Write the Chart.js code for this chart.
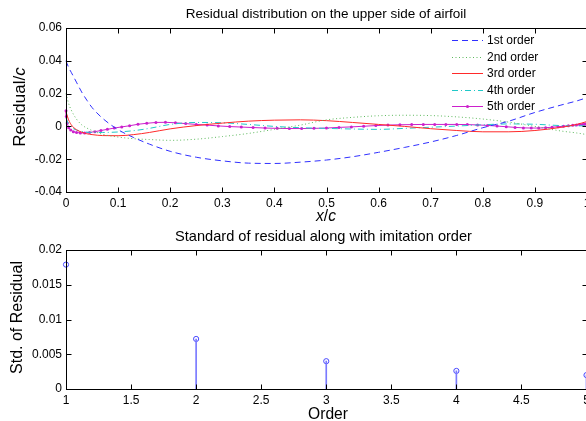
<!DOCTYPE html>
<html><head><meta charset="utf-8">
<script src="https://cdn.jsdelivr.net/npm/chart.js@4/dist/chart.umd.min.js"></script>
<style>
html,body{margin:0;padding:0;background:#fff;overflow:hidden;width:586px;height:421px;}
canvas{position:absolute;left:0;}
#c1{top:0;}
#c2{top:220px;}
</style></head><body>
<canvas id="c1" width="592" height="232" style="width:592px;height:232px"></canvas>
<canvas id="c2" width="592" height="201" style="width:592px;height:201px"></canvas>
<script>
// ---------- DATA (top plot) ----------
const xCoarse = [0, 0.005, 0.01, 0.02, 0.03, 0.04, 0.05, 0.07, 0.1, 0.13, 0.16, 0.2, 0.25, 0.3, 0.35, 0.4, 0.45, 0.5, 0.55, 0.6, 0.65, 0.7, 0.75, 0.8, 0.85, 0.9, 0.95, 0.98, 1.0];
const order1 = [0.04, 0.036, 0.033, 0.027, 0.021, 0.016, 0.0115, 0.005, -0.002, -0.0068, -0.0108, -0.0152, -0.0188, -0.021, -0.0224, -0.0226, -0.0218, -0.0205, -0.0185, -0.0158, -0.0128, -0.0095, -0.0055, -0.0008, 0.0032, 0.0085, 0.013, 0.0155, 0.0175];
const order2 = [0.02, 0.014, 0.01, 0.0045, 0.001, -0.001, -0.0025, -0.0048, -0.0065, -0.0075, -0.008, -0.0085, -0.0078, -0.0062, -0.0043, -0.0018, 0.0008, 0.004, 0.0055, 0.0065, 0.0068, 0.0066, 0.0058, 0.0045, 0.0026, 0.0, -0.0028, -0.004, -0.005];
const order3 = [0.009, 0.004, 0.001, -0.002, -0.0035, -0.0045, -0.005, -0.0056, -0.0057, -0.005, -0.0037, -0.0015, 0.0005, 0.002, 0.0032, 0.0038, 0.004, 0.0035, 0.0024, 0.0012, 0.0, -0.0014, -0.0025, -0.0033, -0.0033, -0.0025, -0.0006, 0.0012, 0.003];
const order4 = [0.005, 0.0015, -0.0005, -0.0022, -0.003, -0.0035, -0.0037, -0.0037, -0.0034, -0.0026, -0.0012, 0.0012, 0.0024, 0.0022, 0.0012, 0.0, -0.0008, -0.0012, -0.0016, -0.0018, -0.0012, -0.0005, 0.0002, 0.001, 0.0015, 0.0013, 0.0005, 0.0003, 0.0004];
const xFine = [0, 0.0006, 0.0023, 0.0051, 0.0090, 0.0141, 0.0203, 0.0275, 0.0358, 0.0452, 0.0556, 0.0670, 0.0794, 0.0927, 0.1070, 0.1221, 0.1381, 0.1550, 0.1726, 0.1909, 0.2100, 0.2297, 0.25, 0.2709, 0.2923, 0.3142, 0.3365, 0.3591, 0.3821, 0.4053, 0.4287, 0.4523, 0.4760, 0.5, 0.5240, 0.5477, 0.5713, 0.5947, 0.6179, 0.6409, 0.6635, 0.6858, 0.7077, 0.7291, 0.75, 0.7703, 0.7900, 0.8091, 0.8274, 0.8450, 0.8619, 0.8779, 0.8930, 0.9073, 0.9206, 0.9330, 0.9444, 0.9548, 0.9642, 0.9725, 0.9797, 0.9859, 0.9910, 0.9949, 0.9977, 0.9994, 1.0];
const order5 = [0.0095, 0.006, 0.002, -0.0008, -0.0022, -0.0032, -0.0037, -0.004, -0.004, -0.0037, -0.0032, -0.0025, -0.0018, -0.001, -0.0003, 0.0004, 0.0013, 0.0019, 0.0024, 0.0025, 0.0022, 0.0017, 0.0012, 0.0008, 0.0003, -0.0001, -0.0004, -0.0007, -0.001, -0.0012, -0.0013, -0.0013, -0.0012, -0.001, -0.0006, -0.0003, 0.0001, 0.0005, 0.0008, 0.001, 0.0011, 0.0012, 0.0012, 0.0012, 0.0012, 0.0011, 0.0009, 0.0006, 0.0002, -0.0002, -0.0006, -0.0009, -0.001, -0.001, -0.0008, -0.0005, -0.0002, 0.0001, 0.0004, 0.0007, 0.0009, 0.0011, 0.0012, 0.0013, 0.0014, 0.0015, 0.0016];
const seriesLabels = ['1st order', '2nd order', '3rd order', '4th order', '5th order'];
const topXTicks = [0, 0.1, 0.2, 0.3, 0.4, 0.5, 0.6, 0.7, 0.8, 0.9, 1];
const topXTickLabels = ['0', '0.1', '0.2', '0.3', '0.4', '0.5', '0.6', '0.7', '0.8', '0.9', '1'];
const topYTicks = [-0.04, -0.02, 0, 0.02, 0.04, 0.06];
const topYTickLabels = ['-0.04', '-0.02', '0', '0.02', '0.04', '0.06'];

// ---------- DATA (bottom plot) ----------
const orders = [1, 2, 3, 4, 5];
const stdResidual = [0.0179, 0.0072, 0.0040, 0.0026, 0.0020];
const botXTicks = [1, 1.5, 2, 2.5, 3, 3.5, 4, 4.5, 5];
const botXTickLabels = ['1', '1.5', '2', '2.5', '3', '3.5', '4', '4.5', '5'];
const botYTicks = [0, 0.005, 0.01, 0.015, 0.02];
const botYTickLabels = ['0', '0.005', '0.01', '0.015', '0.02'];

const FONT = '"Liberation Sans", Arial, Helvetica, sans-serif';
const zip = (xs, ys) => xs.map((x, i) => ({x: x, y: ys[i]}));

function fixTicks(vals) {
  return function(scale) { scale.ticks = vals.map(v => ({value: v})); };
}

// frame with inward ticks (MATLAB style)
const framePlugin = {
  id: 'frame',
  afterDatasetsDraw(chart) {
    const {ctx, chartArea: a, scales} = chart;
    const L = Math.round(a.left) + 0.5, R = Math.round(a.right) + 0.5;
    const T = Math.round(a.top) + 0.5, B = Math.round(a.bottom) + 0.5;
    ctx.save();
    ctx.strokeStyle = '#000';
    ctx.lineWidth = 1;
    ctx.strokeRect(L, T, R - L, B - T);
    const tl = 5;
    ctx.beginPath();
    scales.x.ticks.forEach(t => {
      const px = Math.round(scales.x.getPixelForValue(t.value)) + 0.5;
      ctx.moveTo(px, B); ctx.lineTo(px, B - tl);
      ctx.moveTo(px, T); ctx.lineTo(px, T + tl);
    });
    scales.y.ticks.forEach(t => {
      const py = Math.round(scales.y.getPixelForValue(t.value)) + 0.5;
      ctx.moveTo(L, py); ctx.lineTo(L + tl, py);
      ctx.moveTo(R, py); ctx.lineTo(R - tl, py);
    });
    ctx.stroke();
    ctx.restore();
  }
};

// draw a sequence of [text, style] pieces centred at (0,0) in current transform
function drawPieces(ctx, pieces, size) {
  let total = 0;
  const widths = pieces.map(p => { ctx.font = p[1] + ' ' + size + 'px ' + FONT; const w = ctx.measureText(p[0]).width; total += w; return w; });
  let x = -total / 2;
  pieces.forEach((p, i) => { ctx.font = p[1] + ' ' + size + 'px ' + FONT; ctx.fillText(p[0], x, 0); x += widths[i]; });
}

const textPlugin = {
  id: 'texts',
  afterDraw(chart) {
    const o = chart.options.plugins.texts;
    const ctx = chart.ctx;
    ctx.save();
    ctx.fillStyle = '#000';
    ctx.textAlign = 'left';
    ctx.textBaseline = 'middle';
    o.items.forEach(it => {
      ctx.save();
      ctx.translate(it.x, it.y);
      if (it.rot) ctx.rotate(-Math.PI / 2);
      drawPieces(ctx, it.pieces, it.size);
      ctx.restore();
    });
    ctx.restore();
  }
};

const legendPlugin = {
  id: 'inlegend',
  afterDraw(chart) {
    const o = chart.options.plugins.inlegend;
    if (!o || !o.show) return;
    const ctx = chart.ctx;
    ctx.save();
    chart.data.datasets.forEach((ds, i) => {
      const y = Math.round(o.y0 + i * o.dy) + 0.5;
      ctx.strokeStyle = ds.borderColor;
      ctx.lineWidth = ds.borderWidth;
      ctx.setLineDash(ds.borderDash || []);
      ctx.beginPath();
      ctx.moveTo(o.x0, y); ctx.lineTo(o.x1, y);
      ctx.stroke();
      ctx.setLineDash([]);
      if (ds.pointRadius > 0) {
        ctx.fillStyle = ds.pointBackgroundColor;
        ctx.beginPath();
        ctx.arc((o.x0 + o.x1) / 2, y, ds.pointRadius, 0, Math.PI * 2);
        ctx.fill();
      }
      ctx.fillStyle = '#000';
      ctx.font = o.size + 'px ' + FONT;
      ctx.textBaseline = 'middle';
      ctx.textAlign = 'left';
      ctx.fillText(ds.label, o.tx, y);
    });
    ctx.restore();
  }
};

function lineDs(label, data, color, dash, extra) {
  return Object.assign({
    label: label, data: data, borderColor: color, backgroundColor: color,
    borderWidth: 1, borderDash: dash, pointRadius: 0, pointHoverRadius: 0,
    cubicInterpolationMode: 'monotone', fill: false, clip: false
  }, extra || {});
}

const tickFont = {family: FONT, size: 12};

// ---------- TOP CHART ----------
new Chart(document.getElementById('c1'), {
  type: 'line',
  data: {
    datasets: [
      lineDs(seriesLabels[0], zip(xCoarse, order1), '#3030ff', [6, 4]),
      lineDs(seriesLabels[1], zip(xCoarse, order2), '#5cb85c', [1, 2.5]),
      lineDs(seriesLabels[2], zip(xCoarse, order3), '#ff2a2a', []),
      lineDs(seriesLabels[3], zip(xCoarse, order4), '#20c8c8', [6, 3, 1, 3]),
      lineDs(seriesLabels[4], zip(xFine, order5), '#cc20cc', [], {pointRadius: 1.5, pointBackgroundColor: '#cc20cc', pointBorderWidth: 0, cubicInterpolationMode: 'default', tension: 0})
    ]
  },
  options: {
    responsive: false, animation: false, devicePixelRatio: 1,
    layout: {padding: {top: 28, left: 0, right: 5, bottom: 0}},
    scales: {
      x: {
        type: 'linear', min: 0, max: 1, offset: false,
        afterBuildTicks: fixTicks(topXTicks),
        afterFit(s) { s.height = 40; s.paddingLeft = 0; s.paddingRight = 0; },
        grid: {display: false, drawTicks: false}, border: {display: false},
        ticks: {color: '#000', font: tickFont, padding: 4, maxRotation: 0, autoSkip: false,
          callback: (v, i) => topXTickLabels[i]}
      },
      y: {
        type: 'linear', min: -0.04, max: 0.06,
        afterBuildTicks: fixTicks(topYTicks),
        afterFit(s) { s.width = 66; s.paddingTop = 0; s.paddingBottom = 0; },
        grid: {display: false, drawTicks: false}, border: {display: false},
        ticks: {color: '#000', font: tickFont, padding: 4, autoSkip: false,
          callback: (v, i) => topYTickLabels[i]}
      }
    },
    plugins: {
      legend: {display: false}, tooltip: {enabled: false},
      inlegend: {show: true, x0: 452, x1: 483, tx: 487, y0: 40, dy: 16.5, size: 12},
      texts: {items: [
        {x: 326, y: 14, size: 13.5, pieces: [['Residual distribution on the upper side of airfoil', 'normal']]},
        {x: 20, y: 107, size: 17, rot: true, pieces: [['Residual/', 'normal'], ['c', 'italic']]},
        {x: 326, y: 217, size: 15.6, pieces: [['x', 'italic'], ['/', 'normal'], ['c', 'italic']]}
      ]}
    }
  },
  plugins: [framePlugin, legendPlugin, textPlugin]
});

// ---------- BOTTOM CHART ----------
new Chart(document.getElementById('c2'), {
  type: 'bar',
  data: {
    datasets: [
      {type: 'bar', label: 'stem', data: zip(orders, stdResidual), backgroundColor: '#7a7aff',
       borderWidth: 0, barThickness: 1, grouped: false},
      {type: 'line', label: 'marker', data: zip(orders, stdResidual), showLine: false,
       pointRadius: 2.6, pointBorderColor: '#4848ff', pointBackgroundColor: 'rgba(0,0,0,0)',
       pointBorderWidth: 1, pointHoverRadius: 0, clip: false}
    ]
  },
  options: {
    responsive: false, animation: false, devicePixelRatio: 1,
    layout: {padding: {top: 30, left: 0, right: 5.5, bottom: 0}},
    scales: {
      x: {
        type: 'linear', min: 1, max: 5, offset: false,
        afterBuildTicks: fixTicks(botXTicks),
        afterFit(s) { s.height = 32; s.paddingLeft = 0; s.paddingRight = 0; },
        grid: {display: false, drawTicks: false, offset: false}, border: {display: false},
        ticks: {color: '#000', font: tickFont, padding: 4, maxRotation: 0, autoSkip: false,
          callback: (v, i) => botXTickLabels[i]}
      },
      y: {
        type: 'linear', min: 0, max: 0.02, beginAtZero: true,
        afterBuildTicks: fixTicks(botYTicks),
        afterFit(s) { s.width = 66; s.paddingTop = 0; s.paddingBottom = 0; },
        grid: {display: false, drawTicks: false}, border: {display: false},
        ticks: {color: '#000', font: tickFont, padding: 4, autoSkip: false,
          callback: (v, i) => botYTickLabels[i]}
      }
    },
    plugins: {
      legend: {display: false}, tooltip: {enabled: false},
      inlegend: {show: false},
      texts: {items: [
        {x: 323.5, y: 16.7, size: 14.6, pieces: [['Standard of residual along with imitation order', 'normal']]},
        {x: 18, y: 97.5, size: 16, rot: true, pieces: [['Std. of Residual', 'normal']]},
        {x: 328, y: 194.5, size: 15.6, pieces: [['Order', 'normal']]}
      ]}
    }
  },
  plugins: [framePlugin, legendPlugin, textPlugin]
});
</script>
</body></html>
